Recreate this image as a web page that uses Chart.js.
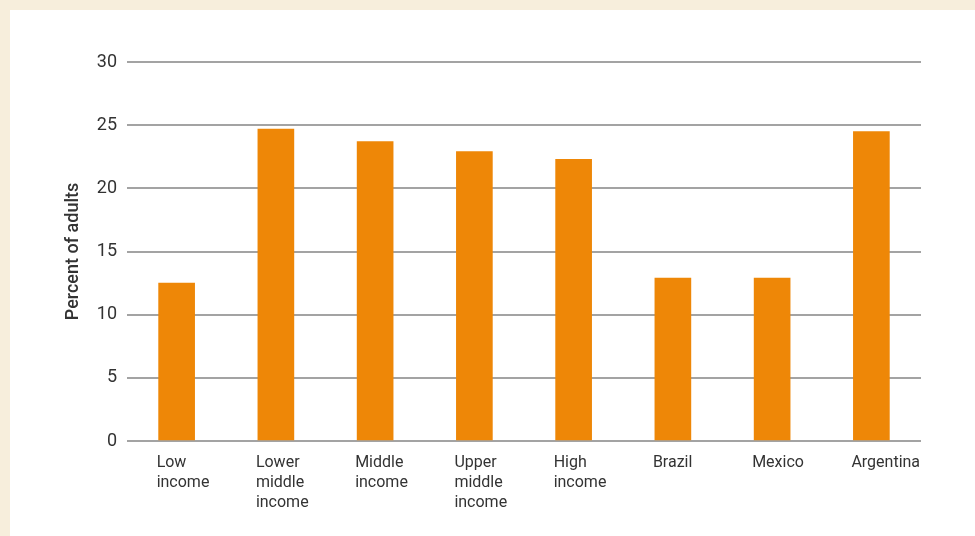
<!DOCTYPE html>
<html>
<head>
<meta charset="utf-8">
<script src="https://cdn.jsdelivr.net/npm/chart.js@4"></script>
<style>
  html, body { margin: 0; padding: 0; background: #f7eedc; }
  #panel { position: absolute; left: 10px; top: 10px; width: 965px; height: 526px; background: #ffffff; }
  canvas { display: block; }
</style>
</head>
<body>
<div id="panel"><canvas id="chart" width="965" height="526"></canvas></div>
<script>
// ─── Data ────────────────────────────────────────────────────────────────────
const CATEGORIES = [
  ["Low", "income"],
  ["Lower", "middle", "income"],
  ["Middle", "income"],
  ["Upper", "middle", "income"],
  ["High", "income"],
  ["Brazil"],
  ["Mexico"],
  ["Argentina"],
];
const PERCENT_ADULTS = [12.5, 24.7, 23.7, 22.9, 22.3, 12.9, 12.9, 24.5];
const Y_MIN = 0, Y_MAX = 30, Y_STEP = 5;
const Y_TITLE = "Percent of adults";

const BAR_COLOR  = "#ee8707";
const GRID_COLOR = "#a3a3a3";
const TEXT_COLOR = "#333333";

new Chart(document.getElementById("chart"), {
  type: "bar",
  data: {
    labels: CATEGORIES,
    datasets: [{
      data: PERCENT_ADULTS,
      backgroundColor: BAR_COLOR,
      barThickness: 36,
      borderWidth: 0
    }]
  },
  options: {
    responsive: false,
    animation: false,
    layout: { padding: { top: 52, right: 54, left: 0, bottom: 0 } },
    plugins: { legend: { display: false }, tooltip: { enabled: false } },
    scales: {
      x: {
        grid: { display: false },
        border: { display: false },
        ticks: {
          color: TEXT_COLOR,
          font: { family: "Roboto", size: 16, lineHeight: 1.25 },
          align: "start",
          labelOffset: -20,
          padding: 4,
          maxRotation: 0,
          autoSkip: false
        },
        afterFit: (s) => { s.height = 95; }
      },
      y: {
        min: Y_MIN,
        max: Y_MAX,
        grid: { color: GRID_COLOR, lineWidth: 2, drawTicks: false },
        border: { display: false },
        ticks: {
          stepSize: Y_STEP,
          color: TEXT_COLOR,
          font: { family: "Roboto", size: 18 },
          padding: 10
        },
        title: {
          display: true,
          text: Y_TITLE,
          color: TEXT_COLOR,
          font: { family: "Roboto", size: 18, weight: "500" },
          padding: { top: 53, bottom: 0 }
        },
        afterFit: (s) => { s.width = 117; }
      }
    }
  }
});
</script>
</body>
</html>
